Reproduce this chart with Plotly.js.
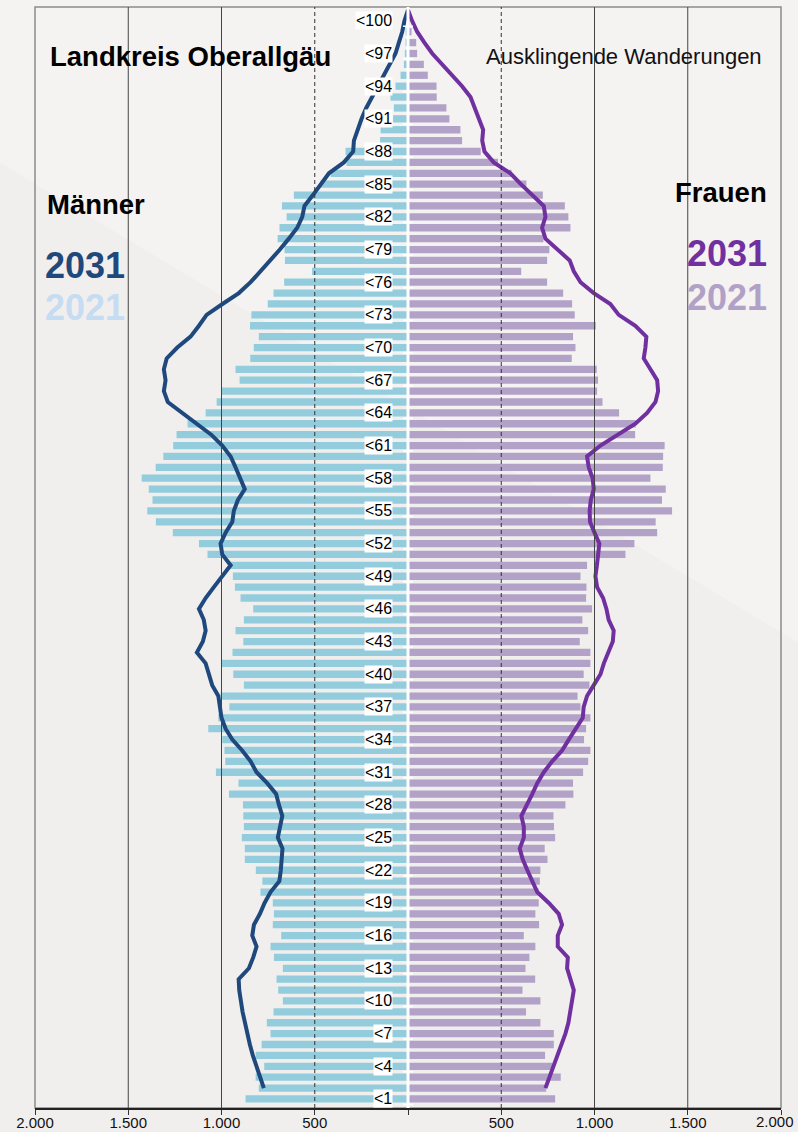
<!DOCTYPE html>
<html><head><meta charset="utf-8">
<script src="https://cdn.plot.ly/plotly-3.0.1.min.js"></script>
<style>html,body{margin:0;padding:0;background:#f1efed;}#chart{width:798px;height:1132px;}</style>
</head><body><div id="chart"></div>
<script>
// Age groups 0..99 (bar rows)
const ages = [0,1,2,3,4,5,6,7,8,9,10,11,12,13,14,15,16,17,18,19,20,21,22,23,24,25,26,27,28,29,30,31,32,33,34,35,36,37,38,39,40,41,42,43,44,45,46,47,48,49,50,51,52,53,54,55,56,57,58,59,60,61,62,63,64,65,66,67,68,69,70,71,72,73,74,75,76,77,78,79,80,81,82,83,84,85,86,87,88,89,90,91,92,93,94,95,96,97,98,99];
// Männer 2021 (bars, left side)
const men2021 = [871,800,817,771,817,785,737,757,721,671,696,705,671,719,737,680,725,719,725,791,781,816,875,875,891,880,883,885,960,909,1030,980,984,996,1071,1017,958,1005,880,937,1000,941,883,925,880,830,898,928,939,955,1075,1121,1261,1352,1398,1370,1390,1428,1353,1312,1259,1241,1182,1085,1026,1000,903,925,846,827,800,847,840,752,721,664,515,660,662,699,689,651,676,612,469,415,330,335,150,147,80,76,94,67,40,22,17,13,12,5];
// Frauen 2021 (bars, right side)
const women2021 = [789,741,819,776,735,782,782,710,633,710,614,682,630,651,683,621,703,683,701,701,707,710,748,733,789,783,780,844,887,885,939,966,978,944,955,978,925,909,973,942,978,978,921,966,935,987,955,957,925,960,1166,1214,1336,1328,1416,1362,1382,1300,1366,1368,1376,1218,1221,1132,1043,1014,1019,1012,878,898,885,1007,894,880,832,746,607,746,758,726,871,860,841,723,635,555,483,390,290,281,222,206,154,153,106,85,49,44,19,8];
// 2031 projection lines
const lineAges = [1,2,3,4,5,6,7,8,9,10,11,12,13,14,15,16,17,18,19,20,21,22,23,24,25,26,27,28,29,30,31,32,33,34,35,36,37,38,39,40,41,42,43,44,45,46,47,48,49,50,51,52,53,54,55,56,57,58,59,60,61,62,63,64,65,66,67,68,69,70,71,72,73,74,75,76,77,78,79,80,81,82,83,84,85,86,87,88,89,90,91,92,93,94,95,96,97,98,99,100];
const men2031 = [773,794,812,832,848,862,876,887,896,905,908,853,830,812,835,826,794,769,737,690,682,680,673,698,687,674,692,707,755,812,844,889,942,978,1000,1009,1017,1050,1068,1085,1132,1100,1085,1095,1121,1085,1041,996,951,996,1005,978,942,934,912,875,898,925,951,996,1055,1130,1210,1288,1309,1300,1309,1294,1237,1166,1121,1080,995,907,844,791,737,687,639,594,567,555,510,465,424,344,294,290,272,249,224,192,162,130,97,67,49,31,19,0];
const women2031 = [737,758,782,803,826,844,860,871,883,889,871,853,857,803,803,826,808,755,693,665,640,615,599,621,621,608,639,666,693,728,773,826,862,898,937,942,960,996,1032,1050,1076,1098,1103,1076,1064,1046,1014,1005,1013,1017,1026,1000,976,974,980,996,990,969,960,1032,1125,1219,1282,1327,1341,1336,1300,1264,1273,1278,1219,1130,1085,996,925,889,867,800,737,719,737,728,665,605,549,460,410,398,403,380,362,335,290,237,183,130,88,49,22,0];
// Age labels
const labelAges = [0,3,6,9,12,15,18,21,24,27,30,33,36,39,42,45,48,51,54,57,60,63,66,69,72,75,78,81,84,87,90,93,96,99];
const labelTexts = ['<1','<4','<7','<10','<13','<16','<19','<22','<25','<28','<31','<34','<37','<40','<43','<46','<49','<52','<55','<58','<61','<64','<67','<70','<73','<76','<79','<82','<85','<88','<91','<94','<97','<100'];
// x axis ticks (the last label is placed separately so it stays inside the page)
const xTickVals = [-2000,-1500,-1000,-500,0,500,1000,1500,2000];
const xTickText = ['2.000','1.500','1.000','500','','500','1.000','1.500',''];
const lastTickText = '2.000';

const FONT = 'Liberation Sans, Arial, sans-serif';
const neg = a => a.map(v => -v);

const data = [
  {type:'bar', orientation:'h', y:ages, x:neg(men2021), marker:{color:'#93cddd'}, hoverinfo:'skip'},
  {type:'bar', orientation:'h', y:ages, x:women2021, marker:{color:'#b3a2c7'}, hoverinfo:'skip'},
  {type:'scatter', mode:'lines', y:lineAges, x:neg(men2031), line:{color:'#1f497d', width:4}, hoverinfo:'skip'},
  {type:'scatter', mode:'lines', y:lineAges, x:women2031, line:{color:'#7030a0', width:4}, hoverinfo:'skip'}
];

const shapes = [];
// background diagonal
shapes.push({type:'path', xref:'paper', yref:'paper', layer:'below',
  path:'M -0.05 1.01 L 1.03 1.01 L 1.03 0.42 L -0.05 0.86 Z',
  fillcolor:'#f5f3f1', line:{width:0}});
// frame
shapes.push({type:'rect', xref:'paper', yref:'paper', x0:0, x1:1, y0:0, y1:1, layer:'below',
  line:{color:'#8c8c8c', width:1.5}});
// gridlines
[-1500,-1000,1000,1500].forEach(v => shapes.push({type:'line', xref:'x', yref:'paper', x0:v, x1:v, y0:0, y1:1,
  layer:'above', line:{color:'#444', width:1}}));
[-500,500].forEach(v => shapes.push({type:'line', xref:'x', yref:'paper', x0:v, x1:v, y0:0, y1:1,
  layer:'above', line:{color:'#333', width:1, dash:'4px,3px'}}));
// white centre line
shapes.push({type:'line', xref:'x', yref:'paper', x0:0, x1:0, y0:0, y1:1, layer:'above',
  line:{color:'#ffffff', width:3}});
labelAges.forEach(a => shapes.push({type:'line', xref:'x', yref:'y', x0:-27, x1:27, y0:a-0.5, y1:a-0.5,
  layer:'above', line:{color:'#ffffff', width:1.5}}));

const annotations = labelAges.map((a,i) => ({
  x:-78, y:a, xref:'x', yref:'y', text:labelTexts[i], showarrow:false, xanchor:'right', yanchor:'middle',
  bgcolor:'#ffffff', borderpad:0, font:{family:FONT, size:16, color:'#000'}
}));
const txt = (text, x, y, anchor, size, color, bold) => ({
  x, y, xref:'paper', yref:'paper', text: bold ? '<b>'+text+'</b>' : text, showarrow:false,
  xanchor:anchor, yanchor:'middle', font:{family:FONT, size, color}
});
annotations.push(txt('Landkreis Oberallgäu', 0.0174, 0.955, 'left', 27.5, '#000', true));
annotations.push(txt('Ausklingende Wanderungen', 0.9772, 0.955, 'right', 22, '#111', false));
annotations.push(txt('Männer', 0.0134, 0.8205, 'left', 27.5, '#000', true));
annotations.push(txt('2031', 0.0107, 0.7655, 'left', 36, '#1f497d', true));
annotations.push(txt('2021', 0.0107, 0.7275, 'left', 36, '#c6dcf2', true));
annotations.push(txt('Frauen', 0.9839, 0.8315, 'right', 27.5, '#000', true));
annotations.push(txt('2031', 0.9839, 0.776, 'right', 36, '#7030a0', true));
annotations.push(txt('2021', 0.9839, 0.7365, 'right', 36, '#b2a1c7', true));
annotations.push(txt(lastTickText, 1.0205, -0.0125, 'right', 15, '#111', false));

const layout = {
  width:798, height:1132,
  margin:{l:35, r:17, t:7, b:24, pad:0},
  paper_bgcolor:'#f1efed', plot_bgcolor:'rgba(0,0,0,0)',
  barmode:'relative', bargap:0.33,
  showlegend:false,
  xaxis:{range:[-2000,2000], tickmode:'array', tickvals:xTickVals, ticktext:xTickText,
    showgrid:false, zeroline:false, showline:true, linecolor:'#222', linewidth:2,
    ticks:'outside', ticklen:5, tickwidth:1, tickcolor:'#333', ticklabelstandoff:-5,
    ticklabeloverflow:'allow',
    tickfont:{family:FONT, size:15, color:'#111'}, fixedrange:true},
  yaxis:{range:[-0.83,100.27], showticklabels:false, showgrid:false, zeroline:false, showline:false,
    ticks:'', fixedrange:true},
  shapes, annotations
};
Plotly.newPlot('chart', data, layout, {displayModeBar:false, staticPlot:true});
</script></body></html>
